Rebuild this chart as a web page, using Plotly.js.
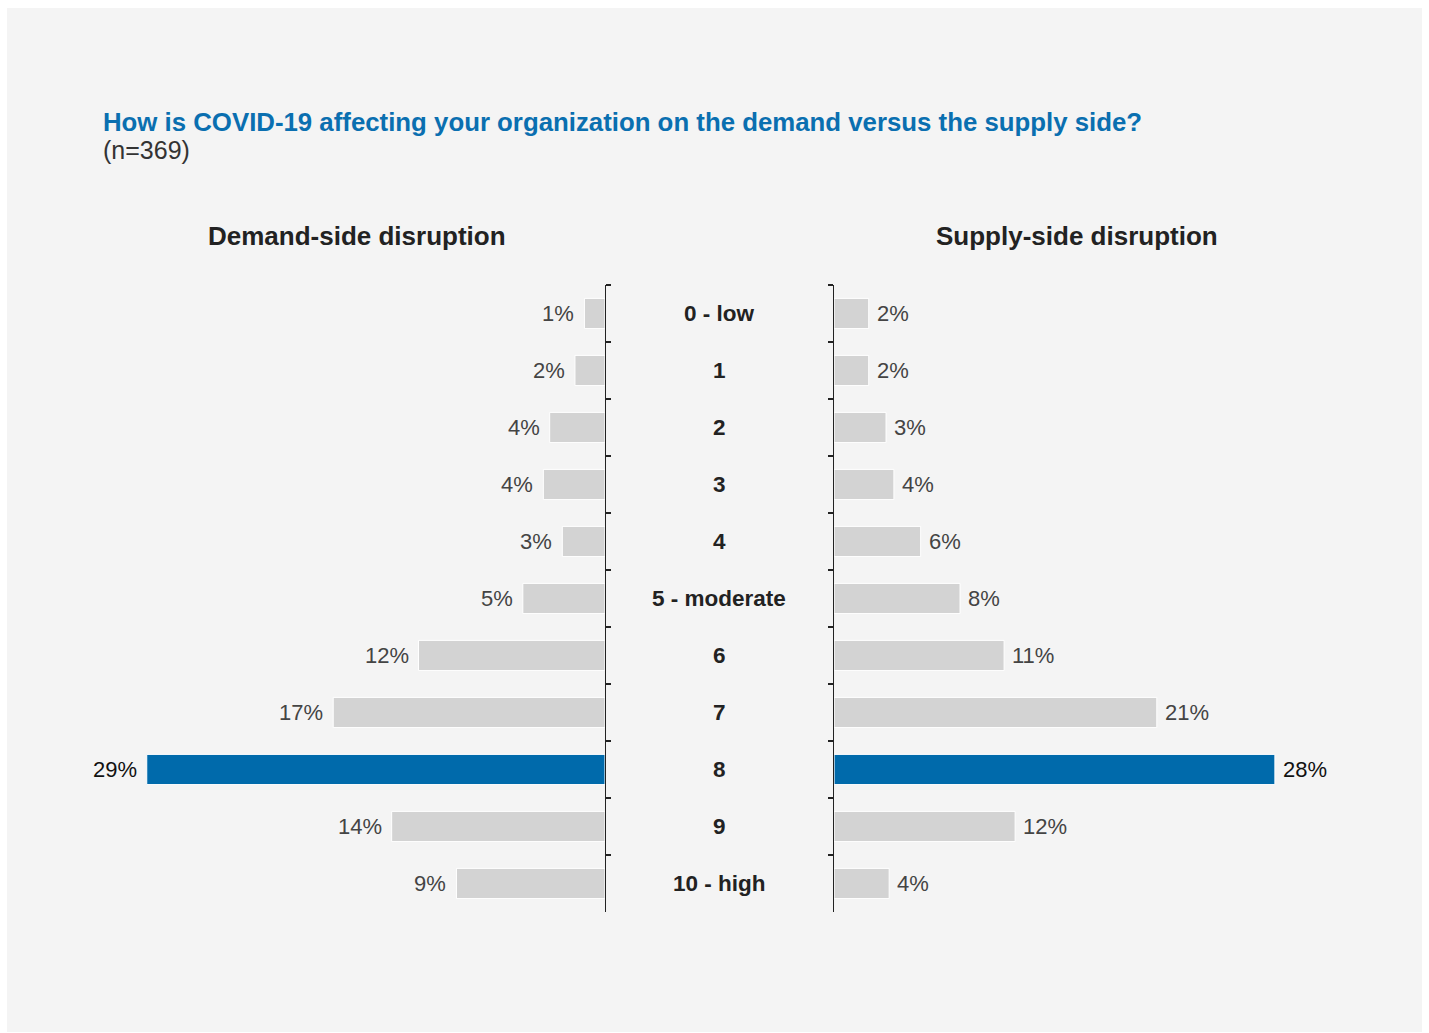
<!DOCTYPE html>
<html>
<head>
<meta charset="utf-8">
<script src="https://cdn.plot.ly/plotly-3.0.1.min.js"></script>
<style>
  html, body { margin: 0; padding: 0; background: #ffffff; }
  #chart { position: absolute; left: 7px; top: 8px; width: 1415px; height: 1024px; }
</style>
</head>
<body>
<div id="chart"></div>
<script>
// ---- Data ----
const categories = ["0 - low", "1", "2", "3", "4", "5 - moderate", "6", "7", "8", "9", "10 - high"];
const demandValues = [1.3, 1.9, 3.5, 3.9, 2.7, 5.2, 11.8, 17.2, 29.0, 13.5, 9.4];
const demandLabels = ["1%", "2%", "4%", "4%", "3%", "5%", "12%", "17%", "29%", "14%", "9%"];
const supplyValues = [2.2, 2.2, 3.3, 3.8, 5.5, 8.0, 10.8, 20.5, 28.0, 11.5, 3.5];
const supplyLabels = ["2%", "2%", "3%", "4%", "6%", "8%", "11%", "21%", "28%", "12%", "4%"];
const highlightCategory = "8";

const titleText = "How is COVID-19 affecting your organization on the demand versus the supply side?";
const subtitleText = "(n=369)";
const demandHeader = "Demand-side disruption";
const supplyHeader = "Supply-side disruption";

// ---- Styles ----
const FONT = "Liberation Sans, Arial, Helvetica, sans-serif";
const GREY = "#d3d3d3";
const BLUE = "#006aab";
const barColors = categories.map(c => c === highlightCategory ? BLUE : GREY);

const traces = [
  {
    type: "bar", orientation: "h",
    x: demandValues, y: categories,
    xaxis: "x", yaxis: "y",
    marker: { color: barColors, line: { color: "#ffffff", width: 1 } },
    hoverinfo: "skip"
  },
  {
    type: "bar", orientation: "h",
    x: supplyValues, y: categories,
    xaxis: "x2", yaxis: "y2",
    marker: { color: barColors, line: { color: "#ffffff", width: 1 } },
    hoverinfo: "skip"
  }
];

const annotations = [];
categories.forEach((c, i) => {
  const hi = c === highlightCategory;
  annotations.push({
    xref: "x", yref: "y", x: demandValues[i], y: c,
    text: demandLabels[i], showarrow: false,
    xanchor: "right", yanchor: "middle", xshift: -8,
    font: { family: FONT, size: 22, color: hi ? "#111111" : "#444444" }
  });
  annotations.push({
    xref: "x2", yref: "y2", x: supplyValues[i], y: c,
    text: supplyLabels[i], showarrow: false,
    xanchor: "left", yanchor: "middle", xshift: 6,
    font: { family: FONT, size: 22, color: hi ? "#111111" : "#444444" }
  });
  annotations.push({
    xref: "paper", yref: "y", x: 0.5034, y: c,
    text: c, showarrow: false,
    xanchor: "center", yanchor: "middle",
    font: { family: FONT, size: 22.5, color: "#222222", weight: "bold" }
  });
});

annotations.push({
  xref: "paper", yref: "paper", x: 0.2477, y: 0.7773,
  text: demandHeader, showarrow: false, xanchor: "center", yanchor: "middle",
  font: { family: FONT, size: 26, color: "#222222", weight: "bold" }
});
annotations.push({
  xref: "paper", yref: "paper", x: 0.7562, y: 0.7773,
  text: supplyHeader, showarrow: false, xanchor: "center", yanchor: "middle",
  font: { family: FONT, size: 26, color: "#222222", weight: "bold" }
});
annotations.push({
  xref: "paper", yref: "paper", x: 0.0664, y: 0.8613,
  text: subtitleText, showarrow: false, xanchor: "left", yanchor: "middle",
  font: { family: FONT, size: 25, color: "#333333" }
});

const axisY = {
  type: "category", autorange: "reversed",
  domain: [0.1172, 0.7295],
  showgrid: false, zeroline: false,
  showline: true, linecolor: "#222222", linewidth: 1.5,
  ticks: "outside", ticklen: 5, tickcolor: "#222222", tickwidth: 1.5,
  tickson: "boundaries", showticklabels: false
};

const layout = {
  width: 1415, height: 1024,
  margin: { l: 0, r: 0, t: 0, b: 0 },
  paper_bgcolor: "#f4f4f4",
  plot_bgcolor: "rgba(0,0,0,0)",
  showlegend: false,
  bargap: 0.47,
  title: {
    text: titleText,
    x: 0.0678, xanchor: "left", xref: "paper",
    y: 0.8887, yanchor: "middle", yref: "paper",
    font: { family: FONT, size: 25.8, color: "#0a6fb0", weight: "bold" }
  },
  xaxis: {
    domain: [0.0876, 0.4226], range: [30, 0],
    showgrid: false, zeroline: false, showline: false, showticklabels: false, ticks: ""
  },
  yaxis: Object.assign({}, axisY, { anchor: "x", side: "right" }),
  xaxis2: {
    domain: [0.5845, 0.9194], range: [0, 30.1],
    showgrid: false, zeroline: false, showline: false, showticklabels: false, ticks: ""
  },
  yaxis2: Object.assign({}, axisY, { anchor: "x2", side: "left" }),
  annotations: annotations
};

Plotly.newPlot("chart", traces, layout, { displayModeBar: false, staticPlot: true });
</script>
</body>
</html>
